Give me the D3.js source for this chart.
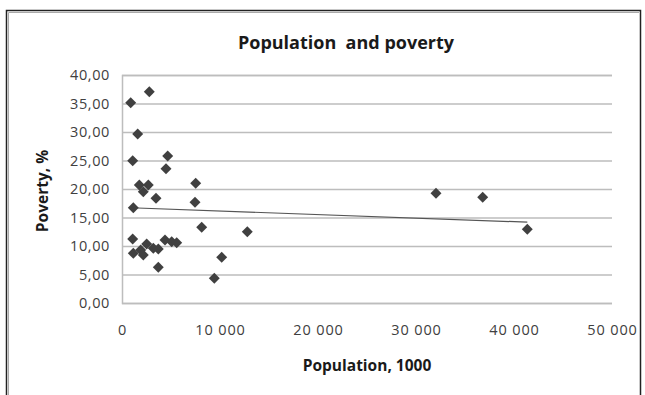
<!DOCTYPE html>
<html><head><meta charset="utf-8">
<script src="https://cdn.jsdelivr.net/npm/d3@7"></script>
<style>html,body{margin:0;padding:0;background:#fff;}svg{display:block;}</style>
</head><body>
<svg id="c" width="645" height="395"></svg>
<script>
const population = [2786, 888, 1602, 1092, 4663, 4490, 7520, 7449, 1153, 1765, 2684, 2173, 3469, 8133, 12786, 1092,
  1153, 1908, 2520, 3194, 3704, 2173, 4388, 5071, 5582, 3704, 10173, 9418, 32040, 36806, 41357];
const poverty = [37.07, 35.14, 29.65, 24.96, 25.79, 23.56, 21.0, 17.67, 16.72, 20.7, 20.7, 19.53, 18.37, 13.28, 12.51, 11.23,
  8.72, 9.3, 10.35, 9.6, 9.47, 8.42, 11.05, 10.75, 10.58, 6.26, 8.02, 4.33, 19.24, 18.54, 12.93];
const xTicks = [0, 10000, 20000, 30000, 40000, 50000];
const yTicks = [0, 5, 10, 15, 20, 25, 30, 35, 40];
const title = "Population  and poverty";
const xTitle = "Population, 1000";
const yTitle = "Poverty, %";

const svg = d3.select("#c");
const font = "'Open Sans', sans-serif";
const L = 122, R = 612, T = 75, B = 303;
const x = d3.scaleLinear().domain([0, 50000]).range([L, R]);
const y = d3.scaleLinear().domain([0, 40]).range([B, T]);

// frame
svg.append("path").attr("d", "M6.5,395 L6.5,10.5 L640.5,10.5 L640.5,395")
  .attr("fill", "none").attr("stroke", "#222").attr("stroke-width", 1.5);
svg.append("path").attr("d", "M8.5,395 L8.5,12.5 L639,12.5")
  .attr("fill", "none").attr("stroke", "#aaa").attr("stroke-width", 1);

// gridlines + y labels
const fmtY = d => d.toFixed(2).replace(".", ",");
const yAxis = d3.axisLeft(y).tickValues(yTicks).tickSize(-(R - L)).tickFormat(fmtY).tickPadding(12);
const gy = svg.append("g").attr("transform", `translate(${L},0)`).call(yAxis);
gy.select(".domain").attr("stroke", "#bdbdbd").attr("stroke-width", 1.5);
gy.selectAll(".tick line").attr("stroke", "#bdbdbd").attr("stroke-width", 1.5);
gy.selectAll(".tick text").attr("font-family", font).attr("font-size", 14.5).attr("letter-spacing", 0.6).attr("fill", "#404040");

const fmtX = d => d === 0 ? "0" : d3.format(",")(d).replace(",", " ");
const xAxis = d3.axisBottom(x).tickValues(xTicks).tickSize(0).tickFormat(fmtX).tickPadding(22);
const gx = svg.append("g").attr("transform", `translate(0,${B})`).call(xAxis);
gx.select(".domain").remove();
gx.selectAll(".tick text").attr("font-family", font).attr("font-size", 14.5).attr("letter-spacing", 0.9)
  .attr("fill", "#404040").style("white-space", "pre");

// trend line (least squares)
const n = population.length;
const mx = d3.mean(population), my = d3.mean(poverty);
let sxy = 0, sxx = 0;
for (let i = 0; i < n; i++) { sxy += (population[i]-mx)*(poverty[i]-my); sxx += (population[i]-mx)**2; }
const slope = sxy / sxx, icpt = my - slope * mx;
const x0 = d3.min(population), x1 = d3.max(population);
svg.append("line")
  .attr("x1", x(x0)).attr("y1", y(icpt + slope*x0))
  .attr("x2", x(x1)).attr("y2", y(icpt + slope*x1))
  .attr("stroke", "#555").attr("stroke-width", 1.2);

// points
const diamond = d3.symbol().type(d3.symbolSquare).size(60);
svg.append("g").selectAll("path").data(d3.range(n)).join("path")
  .attr("d", diamond)
  .attr("transform", i => `translate(${x(population[i])},${y(poverty[i])}) rotate(45)`)
  .attr("fill", "#404040");

// titles
svg.append("text").attr("x", 346).attr("y", 49).attr("text-anchor", "middle")
  .attr("font-family", font).attr("font-weight", "bold").attr("font-size", 18).attr("fill", "#1a1a1a")
  .style("white-space", "pre").text(title);
svg.append("text").attr("x", 367).attr("y", 371).attr("text-anchor", "middle")
  .attr("font-family", font).attr("font-weight", "bold").attr("font-size", 15.5).attr("fill", "#1a1a1a").text(xTitle);
svg.append("text").attr("transform", "translate(48,191) rotate(-90)").attr("text-anchor", "middle")
  .attr("font-family", font).attr("font-weight", "bold").attr("font-size", 15.5).attr("fill", "#1a1a1a").text(yTitle);
</script>
</body></html>
